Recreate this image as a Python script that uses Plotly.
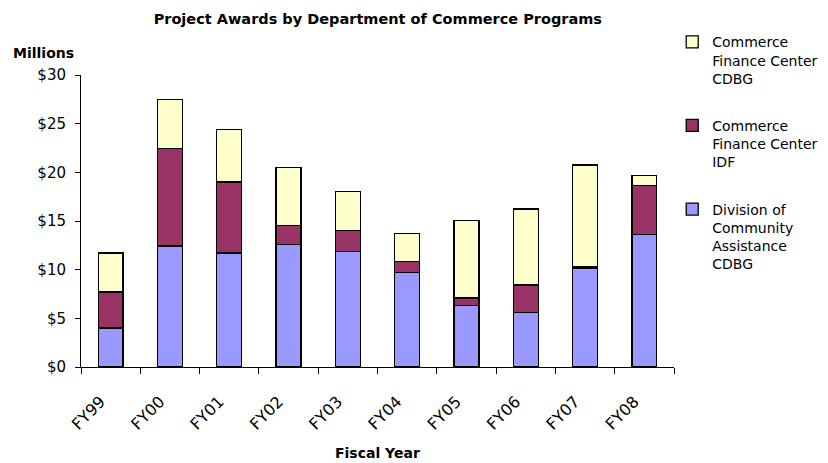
import plotly.graph_objects as go

years = ['FY99', 'FY00', 'FY01', 'FY02', 'FY03', 'FY04', 'FY05', 'FY06', 'FY07', 'FY08']
dca_cdbg = [4.0, 12.44, 11.7, 12.57, 11.86, 9.74, 6.32, 5.6, 10.15, 13.64]
cfc_idf = [3.7, 10.02, 7.3, 1.95, 2.14, 1.13, 0.76, 2.84, 0.11, 5.03]
cfc_cdbg = [4.02, 4.99, 5.4, 5.98, 4.05, 2.83, 7.96, 7.8, 10.49, 1.02]

series_names = [
    'Division of<br>Community<br>Assistance<br>CDBG',
    'Commerce<br>Finance Center<br>IDF',
    'Commerce<br>Finance Center<br>CDBG',
]
series_colors = ['#9999FF', '#993366', '#FFFFCC']

FONT = 'DejaVu Sans'

fig = go.Figure()
for i, (name, vals, col) in enumerate(zip(series_names, [dca_cdbg, cfc_idf, cfc_cdbg], series_colors)):
    fig.add_trace(go.Bar(
        x=years, y=vals, name=name, legendgroup=str(i), legendrank=3 - i,
        marker=dict(color=col, line=dict(color='black', width=1.3)),
    ))

# page body adds an 8px offset, so the figure is sized to fit the window
fig.update_layout(
    barmode='stack',
    bargap=0.58,
    width=820, height=455,
    margin=dict(l=73, r=154, t=67, b=96, autoexpand=False),
    plot_bgcolor='white',
    paper_bgcolor='white',
    font=dict(family=FONT, color='black'),
    title=dict(
        text='<b>Project Awards by Department of Commerce Programs</b>',
        x=0.451, xanchor='center', y=0.977, yanchor='middle',
        font=dict(size=14.5, family=FONT, color='black'),
    ),
    xaxis=dict(
        showline=True, linecolor='black', linewidth=1,
        ticks='outside', ticklen=6, tickcolor='black', tickson='boundaries',
        tickangle=-45, tickfont=dict(size=16),
        ticklabelstandoff=18, ticklabelshift=-10,
        showgrid=False,
    ),
    yaxis=dict(
        range=[0, 30], dtick=5, tickprefix='$',
        showline=True, linecolor='black', linewidth=1,
        ticks='outside', ticklen=5, tickcolor='black',
        ticklabelstandoff=6,
        showgrid=False, zeroline=False,
        tickfont=dict(size=15),
    ),
    legend=dict(
        x=0.997, xanchor='left', y=1.167, yanchor='top',
        traceorder='grouped', tracegroupgap=26, valign='top',
        font=dict(size=14, family=FONT), maxheight=430,
    ),
    annotations=[
        dict(
            text='<b>Millions</b>', xref='paper', yref='paper',
            x=-0.118, y=1.075, xanchor='left', yanchor='middle',
            showarrow=False, font=dict(size=14, family=FONT),
        ),
        dict(
            text='<b>Fiscal Year</b>', xref='paper', yref='paper',
            x=0.5, y=-0.2945, xanchor='center', yanchor='middle',
            showarrow=False, font=dict(size=14, family=FONT),
        ),
    ],
)

fig.write_html('out.html')
